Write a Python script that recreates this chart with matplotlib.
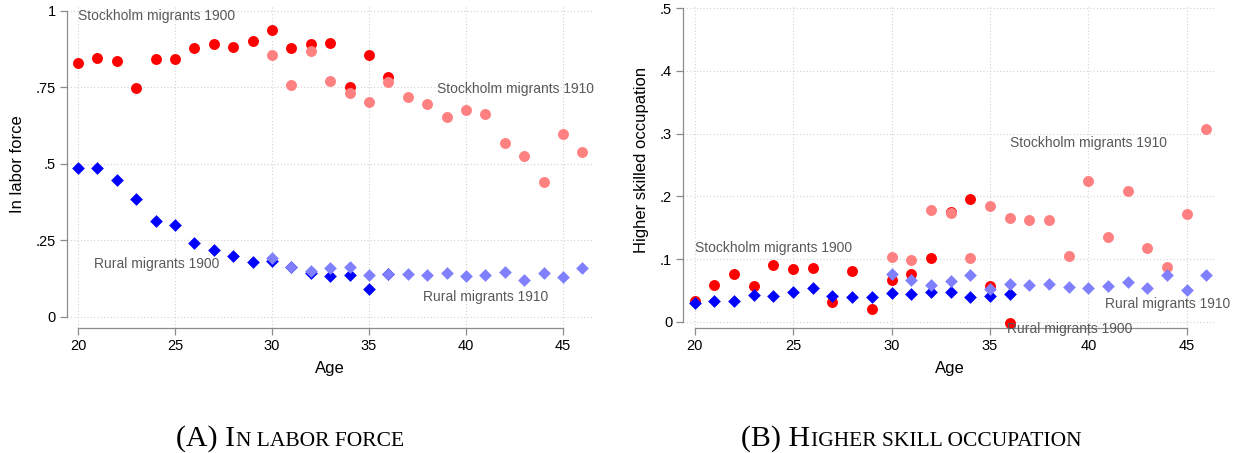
import matplotlib
matplotlib.use("Agg")
import matplotlib.pyplot as plt

plt.rcParams['font.family'] = ['Liberation Sans', 'DejaVu Sans']

# ---------------- data ----------------
ages_1900 = list(range(20, 37))
ages_1910 = list(range(30, 47))

# Panel A: in labor force
lf_sthlm_1900 = [0.829, 0.847, 0.837, 0.749, 0.844, 0.844, 0.878, 0.893, 0.881, 0.903,
                 0.938, 0.880, 0.893, 0.894, 0.752, 0.856, 0.784]
lf_sthlm_1910 = [0.855, 0.759, 0.870, 0.771, 0.731, 0.702, 0.768, 0.718, 0.697, 0.653,
                 0.675, 0.663, 0.569, 0.527, 0.441, 0.599, 0.538]
lf_rural_1900 = [0.486, 0.488, 0.448, 0.386, 0.315, 0.302, 0.243, 0.219, 0.200, 0.179,
                 0.184, 0.163, 0.145, 0.133, 0.136, 0.092, 0.141]
lf_rural_1910 = [0.192, 0.164, 0.151, 0.160, 0.163, 0.137, 0.142, 0.141, 0.137, 0.145,
                 0.135, 0.138, 0.148, 0.122, 0.144, 0.131, 0.161]

# Panel B: higher skilled occupation
hs_sthlm_1900 = [0.033, 0.058, 0.077, 0.057, 0.090, 0.084, 0.086, 0.032, 0.081, 0.020,
                 0.066, 0.077, 0.102, 0.175, 0.196, 0.057, -0.002]
hs_sthlm_1910 = [0.103, 0.098, 0.178, 0.174, 0.102, 0.184, 0.165, 0.163, 0.163, 0.105,
                 0.225, 0.135, 0.209, 0.117, 0.088, 0.172, 0.308]
hs_rural_1900 = [0.030, 0.033, 0.034, 0.043, 0.041, 0.048, 0.054, 0.041, 0.040, 0.039,
                 0.046, 0.044, 0.047, 0.047, 0.039, 0.041, 0.044]
hs_rural_1910 = [0.077, 0.067, 0.058, 0.065, 0.074, 0.052, 0.060, 0.059, 0.061, 0.056,
                 0.054, 0.057, 0.064, 0.054, 0.074, 0.051, 0.075]

x_ticks = [20, 25, 30, 35, 40, 45]
a_yticks = [0, 0.25, 0.5, 0.75, 1]
a_yticklabels = ['0', '.25', '.5', '.75', '1']
b_yticks = [0, 0.1, 0.2, 0.3, 0.4, 0.5]
b_yticklabels = ['0', '.1', '.2', '.3', '.4', '.5']

# ---------------- style ----------------
RED = '#ff0000'
LRED = '#ff8080'
BLUE = '#0000ff'
LBLUE = '#8080ff'
SPINE = '#8c8c8c'
GRID = '#d2d2d2'
LABEL = '#595959'

W, H = 1238, 453
fig = plt.figure(figsize=(W / 100, H / 100), dpi=100)


def add_ax(x0, x1, y0, y1):
    return fig.add_axes([x0 / W, 1 - y1 / H, (x1 - x0) / W, (y1 - y0) / H])


def style(ax, yticks, yticklabels, ylabel, ybounds, ylab_y):
    ax.set_xticks(x_ticks)
    ax.set_xticklabels([str(t) for t in x_ticks])
    ax.set_yticks(yticks)
    ax.set_yticklabels(yticklabels)
    for s in ['top', 'right']:
        ax.spines[s].set_visible(False)
    for s in ['left', 'bottom']:
        ax.spines[s].set_color(SPINE)
        ax.spines[s].set_linewidth(0.9)
    ax.spines['bottom'].set_bounds(20, 45)
    ax.spines['left'].set_bounds(*ybounds)
    ax.tick_params(axis='both', colors=SPINE, labelcolor='black', labelsize=10.5,
                   length=5, width=0.9, direction='out', pad=3)
    ax.grid(True, color=GRID, linestyle=(0, (1, 2)), linewidth=0.8)
    ax.set_axisbelow(True)
    ax.set_xlabel('Age', fontsize=12, labelpad=6)
    ax.set_ylabel(ylabel, fontsize=12, labelpad=8)
    ax.yaxis.label.set_y(ylab_y)


def draw(ax, s19, s10, r19, r10):
    ax.scatter(ages_1900, s19, s=62, marker='o', color=RED, linewidths=0, zorder=3)
    ax.scatter(ages_1900, r19, s=42, marker='D', color=BLUE, linewidths=0, zorder=3)
    ax.scatter(ages_1910, s10, s=62, marker='o', color=LRED, linewidths=0, zorder=4)
    ax.scatter(ages_1910, r10, s=42, marker='D', color=LBLUE, linewidths=0, zorder=4)


# Panel A
axA = add_ax(67, 592, 5, 328)
draw(axA, lf_sthlm_1900, lf_sthlm_1910, lf_rural_1900, lf_rural_1910)
axA.set_xlim(19.433, 46.495)
axA.set_ylim(-0.036, 1.0196)
style(axA, a_yticks, a_yticklabels, 'In labor force', (0, 1), 0.508)
axA.text(20.0, 0.984, 'Stockholm migrants 1900', fontsize=10, color=LABEL, va='center', ha='left')
axA.text(38.49, 0.744, 'Stockholm migrants 1910', fontsize=10, color=LABEL, va='center', ha='left')
axA.text(20.8, 0.172, 'Rural migrants 1900', fontsize=10, color=LABEL, va='center', ha='left')
axA.text(37.8, 0.066, 'Rural migrants 1910', fontsize=10, color=LABEL, va='center', ha='left')

# Panel B
axB = add_ax(683.3, 1216.7, 5, 328)
draw(axB, hs_sthlm_1900, hs_sthlm_1910, hs_rural_1900, hs_rural_1910)
axB.set_xlim(19.42, 46.52)
axB.set_ylim(-0.0098, 0.505)
style(axB, b_yticks, b_yticklabels, 'Higher skilled occupation', (0, 0.5), 0.52)
axB.text(20.03, 0.117, 'Stockholm migrants 1900', fontsize=10, color=LABEL, va='center', ha='left')
axB.text(36.02, 0.285, 'Stockholm migrants 1910', fontsize=10, color=LABEL, va='center', ha='left')
axB.text(40.85, 0.028, 'Rural migrants 1910', fontsize=10, color=LABEL, va='center', ha='left')
axB.text(35.85, -0.011, 'Rural migrants 1900', fontsize=10, color=LABEL, va='center', ha='left')

# Captions in small caps (large initial capitals + smaller capitals)
serif = ['Liberation Serif', 'DejaVu Serif']
fig.canvas.draw()
renderer = fig.canvas.get_renderer()


def caption(x_px, y_px, big, small, big_size=21.5, small_size=15.5):
    t1 = fig.text(x_px / W, 1 - y_px / H, big, fontsize=big_size, family=serif,
                  ha='left', va='baseline')
    ext = t1.get_window_extent(renderer)
    fig.text((ext.x1 + 1) / W, 1 - y_px / H, small, fontsize=small_size, family=serif,
             ha='left', va='baseline')


caption(176, 446, '(A) I', 'N LABOR FORCE')
caption(741, 446, '(B) H', 'IGHER SKILL OCCUPATION')

fig.savefig('out.png', dpi=100)
